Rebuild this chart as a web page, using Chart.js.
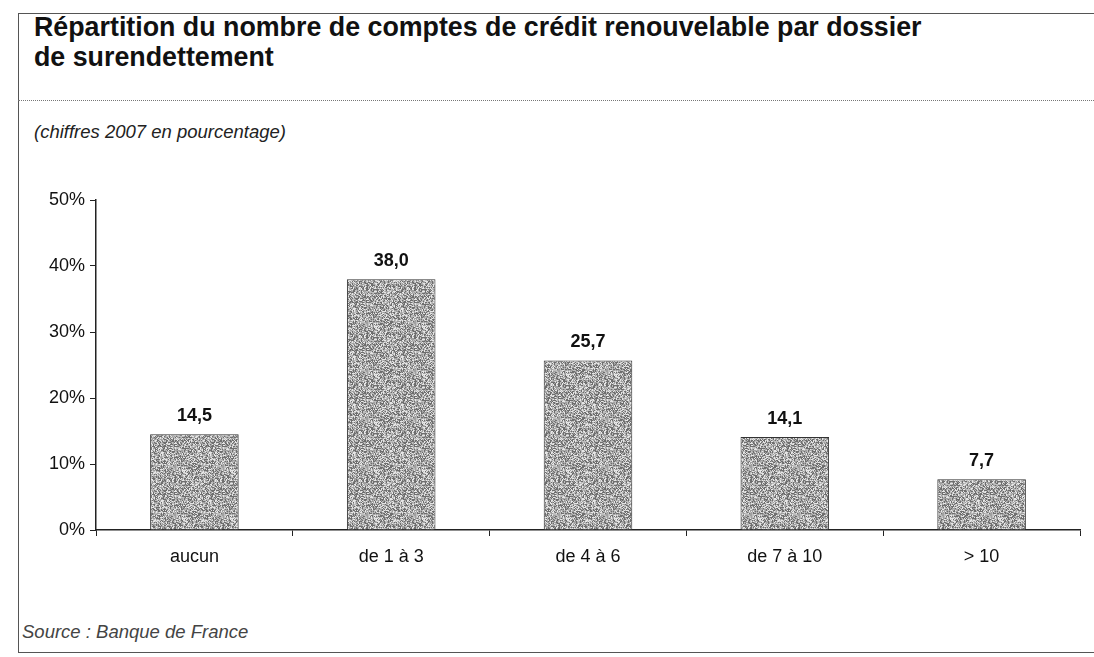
<!DOCTYPE html>
<html>
<head>
<meta charset="utf-8">
<script src="https://cdn.jsdelivr.net/npm/chart.js@4"></script>
<style>
  body { margin: 0; background: #fff; font-family: "Liberation Sans", Arial, sans-serif; }
  #page { position: relative; width: 1094px; height: 657px; overflow: hidden; }
  #frame { position: absolute; left: 18px; top: 13px; width: 1100px; height: 638px;
    border: 1px solid #555; border-right: none; }
  #rule { position: absolute; left: 18px; top: 100px; width: 1076px; border-top: 1px dotted #777; }
  #title { position: absolute; left: 34px; top: 12px; font-weight: bold; font-size: 26.8px;
    line-height: 30px; color: #111; }
  #subtitle { position: absolute; left: 34px; top: 121px; font-style: italic; font-size: 18.5px; color: #222; }
  #source { position: absolute; left: 22px; top: 621px; font-style: italic; font-size: 18.5px; color: #444; }
  #wrap { position: absolute; left: 16px; top: 180px; width: 1078px; height: 400px; }
</style>
</head>
<body>
<div id="page">
  <div id="frame"></div>
  <div id="rule"></div>
  <div id="title">Répartition du nombre de comptes de crédit renouvelable par dossier<br>de surendettement</div>
  <div id="subtitle">(chiffres 2007 en pourcentage)</div>
  <div id="source">Source : Banque de France</div>
  <div id="wrap"><canvas id="myChart"></canvas></div>
</div>
<script>
// data
let categories = ["aucun", "de 1 à 3", "de 4 à 6", "de 7 à 10", "> 10"];
let shares = [14.5, 38.0, 25.7, 14.1, 7.7];
let yTicks = [0, 10, 20, 30, 40, 50];

// grey speckled fill, like the printed original (fixed hash, no randomness)
function makePattern() {
  let size = 48;
  let c = document.createElement("canvas");
  c.width = size;
  c.height = size;
  let g = c.getContext("2d");
  let img = g.createImageData(size, size);
  for (let y = 0; y < size; y++) {
    for (let x = 0; x < size; x++) {
      let h = Math.imul(x, 374761393) + Math.imul(y, 668265263);
      h = Math.imul(h ^ (h >>> 13), 1274126177);
      h = (h ^ (h >>> 16)) >>> 0;
      let r = h % 100;
      let v = r < 30 ? 110 : r < 55 ? 160 : r < 80 ? 190 : 230;
      let i = (y * size + x) * 4;
      img.data[i] = v;
      img.data[i + 1] = v;
      img.data[i + 2] = v;
      img.data[i + 3] = 255;
    }
  }
  g.putImageData(img, 0, 0);
  return g.createPattern(c, "repeat");
}

// value labels above the bars
const valueLabels = {
  id: "valueLabels",
  afterDatasetsDraw(chart) {
    let ctx = chart.ctx;
    let meta = chart.getDatasetMeta(0);
    ctx.save();
    ctx.font = "bold 18px 'Liberation Sans', Arial, sans-serif";
    ctx.fillStyle = "#111";
    ctx.textAlign = "center";
    ctx.textBaseline = "alphabetic";
    meta.data.forEach((bar, i) => {
      ctx.fillText(shares[i].toFixed(1).replace(".", ","), bar.x, bar.y - 13);
    });
    ctx.restore();
  },
};

const ctx = document.getElementById("myChart").getContext("2d");
const myChart = new Chart(ctx, {
  type: "bar",
  data: {
    labels: categories,
    datasets: [
      {
        data: shares,
        backgroundColor: makePattern(),
        borderColor: "#333",
        borderWidth: 1,
        barPercentage: 0.9,
        categoryPercentage: 0.5,
      },
    ],
  },
  plugins: [valueLabels],
  options: {
    responsive: true,
    maintainAspectRatio: false,
    animation: false,
    layout: { padding: { top: 20, right: 14, left: 0, bottom: 0 } },
    plugins: { legend: { display: false }, tooltip: { enabled: false } },
    scales: {
      x: {
        afterFit: (s) => { s.height = 50; },
        border: { color: "#222", width: 1.5 },
        grid: { display: true, offset: true, drawOnChartArea: false, tickLength: 6, color: "#222" },
        ticks: { color: "#111", padding: 10, font: { size: 18, family: "'Liberation Sans', Arial, sans-serif" } },
      },
      y: {
        min: 0,
        max: 50,
        afterFit: (s) => { s.width = 80; },
        afterBuildTicks: (s) => { s.ticks = yTicks.map((v) => ({ value: v })); },
        border: { color: "#222", width: 1.5 },
        grid: { display: true, drawOnChartArea: false, tickLength: 6, color: "#222" },
        ticks: {
          color: "#111",
          padding: 5,
          font: { size: 18, family: "'Liberation Sans', Arial, sans-serif" },
          callback: (v) => v + "%",
        },
      },
    },
  },
});
</script>
</body>
</html>
